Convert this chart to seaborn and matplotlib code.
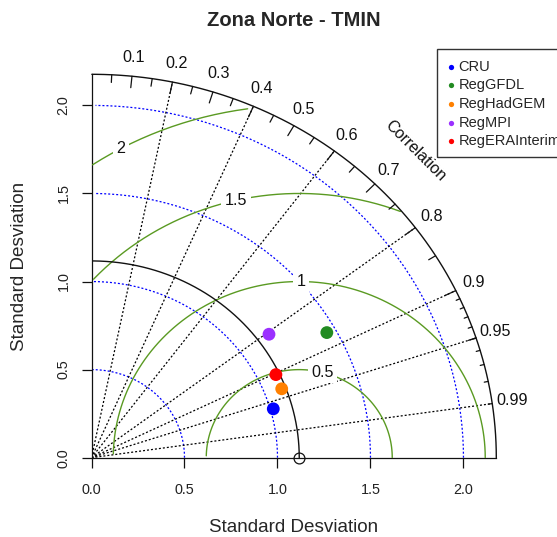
import numpy as np
import pandas as pd
import matplotlib
matplotlib.use("Agg")
import matplotlib.pyplot as plt
import seaborn as sns
from matplotlib.patches import Rectangle

# --- data -------------------------------------------------------------
models = ["CRU", "RegGFDL", "RegHadGEM", "RegMPI", "RegERAInterim"]
model_sd = [1.016, 1.451, 1.095, 1.184, 1.098]
model_corr = [0.962, 0.872, 0.934, 0.806, 0.903]
model_colors = ["#0000FF", "#228B22", "#FF8000", "#9B30FF", "#FF0000"]
ref_sd = 1.117

rms_levels = [0.5, 1.0, 1.5, 2.0]
rms_labels = ["0.5", "1", "1.5", "2"]
sd_arcs = [0.5, 1.0, 1.5, 2.0]
sd_ticks = [0.0, 0.5, 1.0, 1.5, 2.0]
sd_tick_labels = ["0.0", "0.5", "1.0", "1.5", "2.0"]
corr_lines = [0.2, 0.4, 0.6, 0.8, 0.9, 0.95, 0.99]
corr_label_values = [0.1, 0.2, 0.3, 0.4, 0.5, 0.6, 0.7, 0.8, 0.9, 0.95, 0.99]
corr_label_text = ["0.1", "0.2", "0.3", "0.4", "0.5", "0.6", "0.7", "0.8",
                   "0.9", "0.95", "0.99"]

title = "Zona Norte - TMIN"
axis_title = "Standard Desviation"

# --- style -------------------------------------------------------------
sns.set_style("white")
plt.rcParams["font.family"] = ["Liberation Sans", "DejaVu Sans"]

W, H = 557, 537
fig = plt.figure(figsize=(W / 100, H / 100), dpi=100)


def fpx(x, y):
    """pixel position -> figure fraction"""
    return x / W, 1 - y / H


maxsd = 1.5 * max(max(model_sd), ref_sd)

left, bottom = fpx(91.5, 457.7)
ax = fig.add_axes([left, bottom, 404.8 / W, 383.4 / H])
ax.set_xlim(0, maxsd)
ax.set_ylim(0, maxsd)
for s in ["top", "right"]:
    ax.spines[s].set_visible(False)
for s in ["left", "bottom"]:
    ax.spines[s].set_linewidth(0.9)
    ax.spines[s].set_color("#111111")

ax.set_xticks(sd_ticks)
ax.set_xticklabels(sd_tick_labels)
ax.set_yticks(sd_ticks)
ax.set_yticklabels(sd_tick_labels, rotation=90, va="center")
ax.tick_params(axis="both", direction="out", length=7, width=0.9,
               color="#111111", labelsize=10.4, labelcolor="#222222",
               bottom=True, left=True)
ax.tick_params(axis="x", pad=11)
ax.tick_params(axis="y", pad=8)

grid_dash = (0, (1.6, 1.6))

# standard deviation arcs (blue, dotted)
t_arc = np.arange(0, np.pi / 2, 0.03)
for r in sd_arcs:
    ax.plot(np.cos(t_arc) * r, np.sin(t_arc) * r, color="#0000FF",
            lw=0.9, linestyle=grid_dash, zorder=2)

# centred RMS difference contours (green)
t_rms = np.arange(0, np.pi, 0.03)
label_idx = [int(v) - 1 for v in np.linspace(45, 70, len(rms_levels))]
for g, lab, li in zip(rms_levels, rms_labels, label_idx):
    xc = np.cos(t_rms) * g + ref_sd
    yc = np.sin(t_rms) * g
    neg = np.where(xc < 0)[0]
    end = neg.min() if len(neg) else len(xc)
    outside = np.where(xc ** 2 + yc ** 2 > maxsd ** 2)[0]
    start = outside.max() + 1 if len(outside) else 0
    ax.plot(xc[start:end], yc[start:end], color="#5A9A22", lw=1.0, zorder=3)
    if xc[li] > 0:
        ax.text(xc[li], yc[li], lab, ha="center", va="center", fontsize=11.6,
                color="#111111", zorder=4,
                bbox=dict(boxstyle="square,pad=0.22", fc="white", ec="none"))

# correlation rays (black, dotted)
for c in corr_lines:
    ax.plot([0, maxsd * c], [0, maxsd * np.sqrt(1 - c ** 2)], color="black",
            lw=0.9, linestyle=grid_dash, zorder=2)

# outer arc
t_out = np.arange(0, np.pi / 2 + 0.001, 0.01)
ax.plot(np.cos(t_out) * maxsd, np.sin(t_out) * maxsd, color="#111111",
        lw=1.0, clip_on=False, zorder=5)

# correlation tick marks
big = np.arccos(np.arange(0.1, 0.91, 0.1))
med = np.arccos(np.arange(0.05, 0.96, 0.1))
small = np.arccos(np.arange(0.91, 0.995, 0.01))
for angs, frac in [(big, 0.97), (med, 0.98), (small, 0.99)]:
    for a in angs:
        ax.plot([np.cos(a) * maxsd, np.cos(a) * frac * maxsd],
                [np.sin(a) * maxsd, np.sin(a) * frac * maxsd],
                color="#111111", lw=0.9, clip_on=False, zorder=5)

# correlation labels
for v, txt in zip(corr_label_values, corr_label_text):
    a = np.arccos(v)
    ax.text(np.cos(a) * 1.05 * maxsd, np.sin(a) * 1.05 * maxsd, txt,
            ha="center", va="center", fontsize=11.6, color="#111111",
            clip_on=False)
ax.text(maxsd * 0.8, maxsd * 0.8, "Correlation", rotation=-45,
        ha="center", va="center", fontsize=11.6, color="#111111",
        rotation_mode="anchor")

# reference standard deviation arc
t_ref = np.arange(0, np.pi / 2 + 0.001, 0.01)
ax.plot(np.cos(t_ref) * ref_sd, np.sin(t_ref) * ref_sd, color="#111111",
        lw=1.0, zorder=5)

# model points
corr_arr = np.array(model_corr)
sd_arr = np.array(model_sd)
df = pd.DataFrame({
    "model": models,
    "x": sd_arr * corr_arr,
    "y": sd_arr * np.sqrt(1 - corr_arr ** 2),
})
sns.scatterplot(data=df, x="x", y="y", hue="model",
                palette=dict(zip(models, model_colors)), s=85, linewidth=0,
                legend=False, ax=ax, zorder=10, clip_on=False)
ax.plot([ref_sd], [0], marker="o", mfc="none", mec="#111111", ms=7.8,
        mew=0.9, clip_on=False, zorder=11)
ax.set_xlabel("")
ax.set_ylabel("")

# titles
fig.text(*fpx(293.5, 20), title, ha="center", va="center",
         fontsize=14.5, fontweight="bold")
fig.text(*fpx(293.5, 528), axis_title, ha="center", va="center",
         fontsize=13.6)
fig.text(*fpx(20, 266), axis_title, ha="center", va="center",
         fontsize=13.6, rotation=90)

# legend box (its right side runs past the figure edge)
bx0, by0 = fpx(437.3, 157.3)
fig.patches.append(Rectangle((bx0, by0), 200 / W, (157.3 - 49) / H,
                             transform=fig.transFigure, fill=False,
                             ec="#333333", lw=1.0))
for i, (name, col) in enumerate(zip(models, model_colors)):
    yy = 66.7 + i * 18.6
    fig.lines.append(plt.Line2D([450.7 / W], [1 - yy / H], marker="o",
                                color=col, ms=3.8, mew=0,
                                transform=fig.transFigure))
    fig.text(*fpx(458.3, yy), name, ha="left", va="center", fontsize=10.5)

fig.savefig("out.png", dpi=100)
